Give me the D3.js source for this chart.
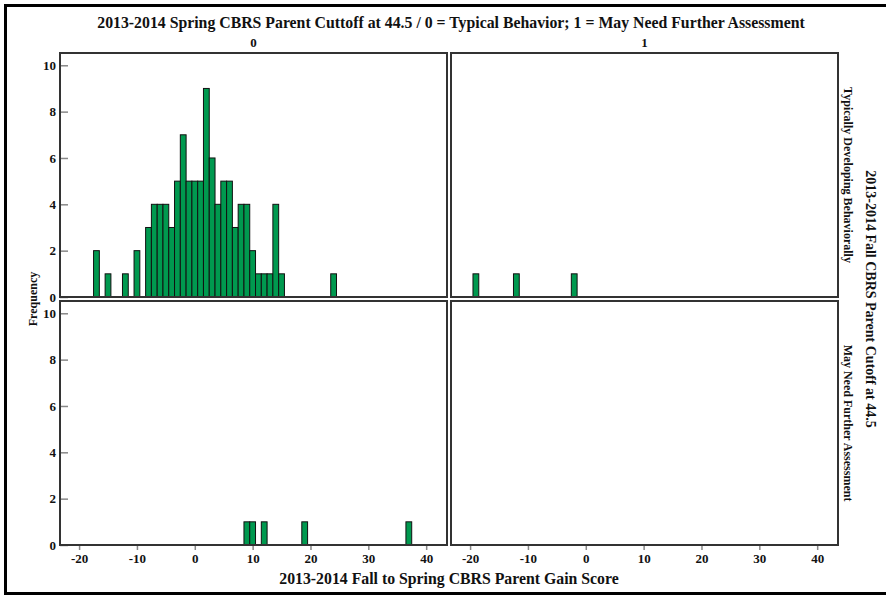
<!DOCTYPE html>
<html>
<head>
<meta charset="utf-8">
<script src="https://cdn.jsdelivr.net/npm/d3@7"></script>
<style>
  body { margin: 0; background: #fff; }
  svg text { font-family: "Liberation Serif", "Times New Roman", serif; font-weight: bold; fill: #111; }
</style>
</head>
<body>
<div id="chart"></div>
<script>
// Gain score bins (bin width 1, centred on the integer) and counts per panel
const tdTypicalScores = [-17, -15, -12, -10, -8, -7, -6, -5, -4, -3, -2, -1, 0, 1, 2, 3, 4, 5, 6, 7, 8, 9, 10, 11, 12, 13, 14, 15, 24];
const tdTypicalCounts = [2, 1, 1, 2, 3, 4, 4, 4, 3, 5, 7, 5, 5, 5, 9, 6, 4, 5, 5, 3, 4, 4, 2, 1, 1, 1, 4, 1, 1];
const tdFurtherScores = [-19, -12, -2];
const tdFurtherCounts = [1, 1, 1];
const mnTypicalScores = [9, 10, 12, 19, 37];
const mnTypicalCounts = [1, 1, 1, 1, 1];
const mnFurtherScores = [];
const mnFurtherCounts = [];

const colLabels = ['0', '1'];
const rowLabels = ['Typically Developing Behaviorally', 'May Need Further Assessment'];
const xTicks = [-20, -10, 0, 10, 20, 30, 40];
const yTicks = [0, 2, 4, 6, 8, 10];

const title = '2013-2014 Spring CBRS Parent Cuttoff at 44.5 / 0 = Typical Behavior; 1 = May Need Further Assessment';
const rowTitle = '2013-2014 Fall CBRS Parent Cutoff at 44.5';
const xTitle = '2013-2014 Fall to Spring CBRS Parent Gain Score';
const yTitle = 'Frequency';

const panels = [
  { row: 0, col: 0, scores: tdTypicalScores, counts: tdTypicalCounts },
  { row: 0, col: 1, scores: tdFurtherScores, counts: tdFurtherCounts },
  { row: 1, col: 0, scores: mnTypicalScores, counts: mnTypicalCounts },
  { row: 1, col: 1, scores: mnFurtherScores, counts: mnFurtherCounts }
];

const width = 886, height = 596;
const panelW = 387, panelH = 244;
const colX = [60, 451];
const rowY = [53, 301];

const svg = d3.select('#chart').append('svg')
  .attr('width', width)
  .attr('height', height);

// outer frame
svg.append('rect')
  .attr('x', 5.5).attr('y', 5.5)
  .attr('width', 900).attr('height', 588)
  .attr('fill', 'none')
  .attr('stroke', '#000')
  .attr('stroke-width', 3);

const x = d3.scaleLinear().domain([-23.3, 43.6]).range([0, panelW]);
const y = d3.scaleLinear().domain([0, 10.53]).range([panelH, 0]);

panels.forEach(function(p) {
  const g = svg.append('g')
    .attr('transform', `translate(${colX[p.col]},${rowY[p.row]})`);

  const data = p.scores.map((s, i) => ({ score: s, count: p.counts[i] }));

  g.selectAll('.bar')
    .data(data)
    .enter().append('rect')
    .attr('class', 'bar')
    .attr('x', d => x(d.score - 0.5))
    .attr('width', d => x(d.score + 0.5) - x(d.score - 0.5))
    .attr('y', d => y(d.count))
    .attr('height', d => y(0) - y(d.count))
    .attr('fill', '#00994f')
    .attr('stroke', '#111')
    .attr('stroke-width', 1);

  // y axis on the left column only, ticks pointing inward
  if (p.col === 0) {
    const yAxis = g.append('g')
      .call(d3.axisLeft(y).tickValues(yTicks).tickFormat(d => String(d)).tickSizeInner(-8).tickSizeOuter(0).tickPadding(4));
    yAxis.select('.domain').remove();
    yAxis.selectAll('line').attr('stroke', '#888').attr('stroke-width', 1.5);
    yAxis.selectAll('text').style('font-size', '13px').style('font-family', '"Liberation Serif", serif').style('font-weight', 'bold');
  }

  // x axis on the bottom row only
  if (p.row === 1) {
    const xAxis = g.append('g')
      .attr('transform', `translate(0,${panelH})`)
      .call(d3.axisBottom(x).tickValues(xTicks).tickFormat(d => String(d)).tickSizeInner(5).tickSizeOuter(0).tickPadding(4));
    xAxis.select('.domain').remove();
    xAxis.selectAll('line').attr('stroke', '#888').attr('stroke-width', 1.5);
    xAxis.selectAll('text').style('font-size', '13px').style('font-family', '"Liberation Serif", serif').style('font-weight', 'bold');
  }

  // panel border
  g.append('rect')
    .attr('width', panelW).attr('height', panelH)
    .attr('fill', 'none')
    .attr('stroke', '#333')
    .attr('stroke-width', 2);
});

// title and column strip labels
svg.append('text')
  .attr('x', 451).attr('y', 28)
  .attr('text-anchor', 'middle')
  .style('font-size', '15.8px')
  .text(title);

colLabels.forEach(function(lab, i) {
  svg.append('text')
    .attr('x', colX[i] + panelW / 2).attr('y', 47)
    .attr('text-anchor', 'middle')
    .style('font-size', '13px')
    .text(lab);
});

// row strip labels on the right
rowLabels.forEach(function(lab, i) {
  svg.append('text')
    .attr('transform', `translate(${colX[1] + panelW + 6},${rowY[i] + panelH / 2}) rotate(90)`)
    .attr('text-anchor', 'middle')
    .style('font-size', '12px')
    .text(lab);
});

svg.append('text')
  .attr('transform', `translate(866,${rowY[0] + (rowY[1] + panelH - rowY[0]) / 2}) rotate(90)`)
  .attr('text-anchor', 'middle')
  .style('font-size', '14px')
  .text(rowTitle);

// axis titles
svg.append('text')
  .attr('x', 449).attr('y', 584)
  .attr('text-anchor', 'middle')
  .style('font-size', '15.8px')
  .text(xTitle);

svg.append('text')
  .attr('transform', `translate(37,${(rowY[0] + rowY[1] + panelH) / 2}) rotate(-90)`)
  .attr('text-anchor', 'middle')
  .style('font-size', '12px')
  .text(yTitle);
</script>
</body>
</html>
